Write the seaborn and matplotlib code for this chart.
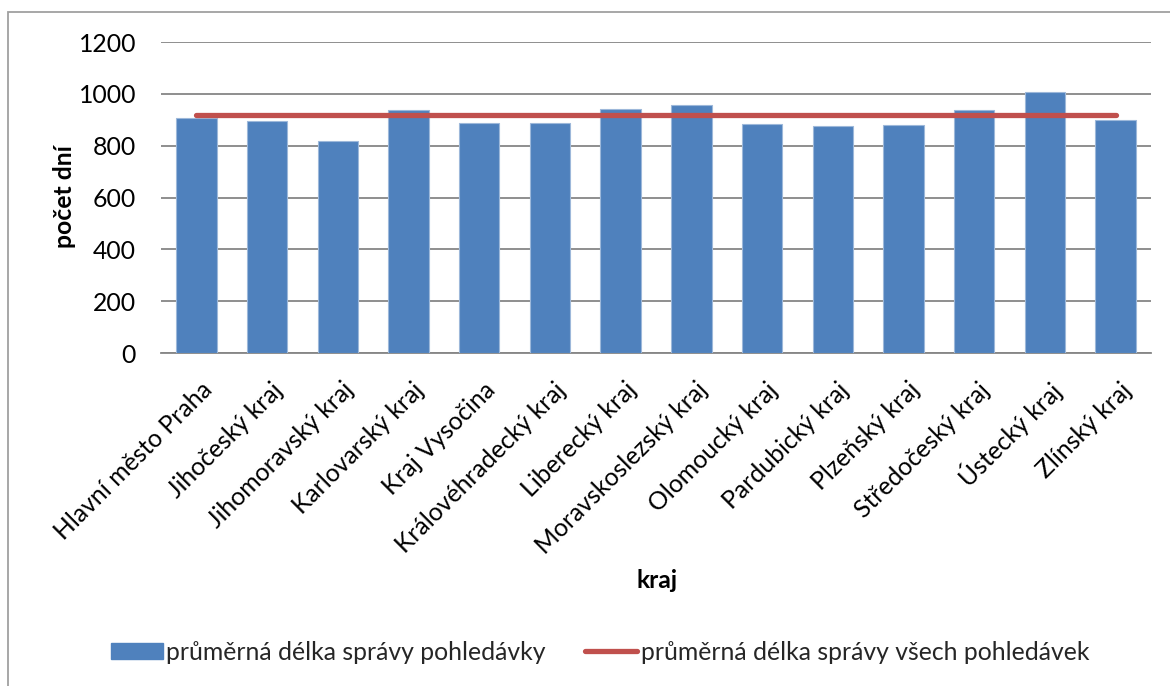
import matplotlib
matplotlib.use("Agg")
import matplotlib.pyplot as plt
import matplotlib.transforms as mtransforms
import seaborn as sns
import numpy as np
import pandas as pd
from matplotlib.patches import Patch, Rectangle
from matplotlib.lines import Line2D

kraje = ["Hlavní město Praha", "Jihočeský kraj", "Jihomoravský kraj", "Karlovarský kraj",
         "Kraj Vysočina", "Královéhradecký kraj", "Liberecký kraj", "Moravskoslezský kraj",
         "Olomoucký kraj", "Pardubický kraj", "Plzeňský kraj", "Středočeský kraj",
         "Ústecký kraj", "Zlínský kraj"]
prumer_pohledavky = [905, 897, 817, 937, 886, 886, 943, 957, 884, 874, 879, 936, 1008, 898]
prumer_vsech = [919, 919, 919, 919, 919, 919, 919, 919, 919, 919, 919, 919, 919, 919]
y_ticks = [0, 200, 400, 600, 800, 1000, 1200]

label_bar = "průměrná délka správy pohledávky"
label_line = "průměrná délka správy všech pohledávek"

BLUE = "#4F81BD"
RED = "#C0504D"
GRID = "#868686"
FS = 17.8

sns.set_theme(style="white")
plt.rcParams["font.family"] = ["Lato", "DejaVu Sans"]

fig = plt.figure(figsize=(11.7, 6.86), dpi=100)
ax = fig.add_axes([161 / 1170, 1 - 353 / 686, (1151 - 161) / 1170, (353 - 42) / 686])

df = pd.DataFrame({"kraj": kraje, "hodnota": prumer_pohledavky})
sns.barplot(data=df, x="kraj", y="hodnota", color=BLUE, saturation=1, width=0.57,
            edgecolor="#9DB8DA", linewidth=0.8, ax=ax, zorder=3)

pos = np.arange(len(kraje))
sns.lineplot(x=pos, y=prumer_vsech, color=RED, linewidth=3.8, ax=ax, zorder=4,
             solid_capstyle="round")

ax.set_xlim(-0.5, len(kraje) - 0.5)
ax.set_ylim(0, 1200)
ax.set_yticks(y_ticks)
ax.yaxis.grid(True, color=GRID, linewidth=1.3, zorder=0)
ax.set_axisbelow(True)
for s in ["top", "right", "left"]:
    ax.spines[s].set_visible(False)
ax.spines["bottom"].set_color(GRID)
ax.spines["bottom"].set_linewidth(1.3)
ax.tick_params(axis="y", length=0, pad=18, labelsize=FS, labelcolor="black")
ax.tick_params(axis="x", length=0, pad=24, labelsize=FS, labelcolor="black")
ax.set_xticks(pos)
ax.set_xticklabels(kraje, rotation=45, ha="right", va="center", rotation_mode="anchor")
offset = mtransforms.ScaledTranslation(12 / 100, 0, fig.dpi_scale_trans)
for lab in ax.get_xticklabels():
    lab.set_transform(lab.get_transform() + offset)

ax.set_xlabel("kraj", fontsize=FS, fontweight="bold", color="black")
ax.xaxis.set_label_coords((657 - 161) / 990, -(569 - 353) / 311)
ax.set_ylabel("počet dní", fontsize=FS, fontweight="bold", color="black")
ax.yaxis.set_label_coords(-(161 - 76) / 990, (353 - 197) / 311)

handles = [Patch(facecolor=BLUE, edgecolor=BLUE),
           Line2D([0], [0], color=RED, linewidth=3.8, solid_capstyle="round")]
fig.legend(handles, [label_bar, label_line], loc="center", ncol=2, frameon=False,
           bbox_to_anchor=(600 / 1170, 1 - 652 / 686), fontsize=FS,
           handlelength=2.1, handleheight=0.6, handletextpad=0.15, columnspacing=1.6)

fig.patches.append(Rectangle((8 / 1170, -0.05), 1.1, 1 - 12.5 / 686 + 0.05,
                             transform=fig.transFigure, fill=False,
                             edgecolor="#A0A0A0", linewidth=1.3))

fig.savefig("out.png", dpi=100)
